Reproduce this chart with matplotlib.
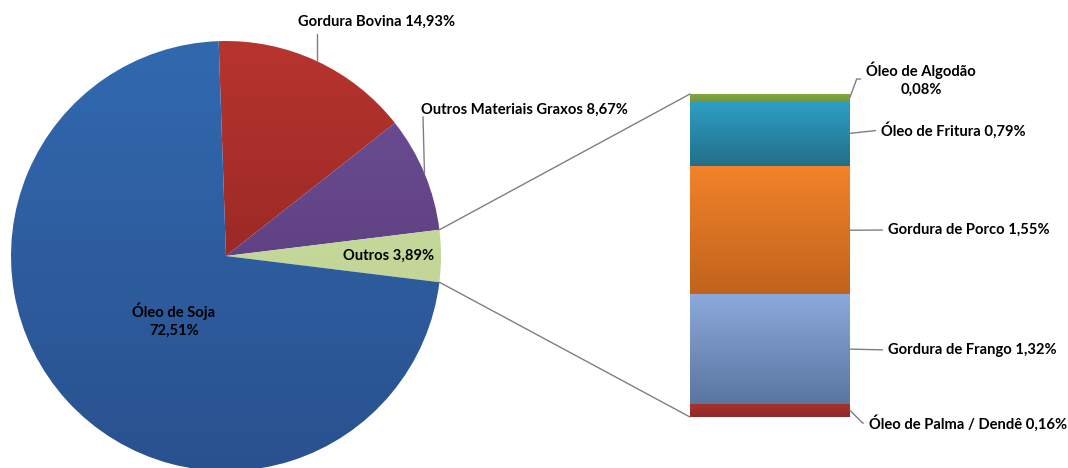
import numpy as np
import matplotlib
matplotlib.use('Agg')
from matplotlib import pyplot as plt
from matplotlib.colors import LinearSegmentedColormap
from matplotlib.patches import ConnectionPatch

# fatias do grafico de pizza
pie_labels = ['Gordura Bovina', 'Outros Materiais Graxos', 'Outros', 'Óleo de Soja']
pie_values = [14.93, 8.67, 3.89, 72.51]
pie_top = ['#B8342F', '#6E4F97', '#C8DB9F', '#3169AF']
pie_bot = ['#7E1F1C', '#523670', '#BFD393', '#29518E']

# detalhamento de "Outros" (de baixo para cima)
bar_labels = ['Óleo de Palma / Dendê', 'Gordura de Frango', 'Gordura de Porco',
              'Óleo de Fritura', 'Óleo de Algodão']
bar_values = [0.16, 1.32, 1.55, 0.79, 0.08]
bar_top = ['#A8332F', '#8BA9DB', '#F2832A', '#2FA0C5', '#82A63E']
bar_bot = ['#90292A', '#5A75A0', '#C0631C', '#226E89', '#76993A']

def fmt(v):
    return ('%.2f%%' % v).replace('.', ',')

def gradiente(ax, patch, top, bottom, extent):
    cmap = LinearSegmentedColormap.from_list('g', [bottom, top])
    grad = np.linspace(0, 1, 256).reshape(-1, 1)
    im = ax.imshow(grad, cmap=cmap, extent=extent, origin='lower',
                   aspect='auto', zorder=1)
    im.set_clip_path(patch)

plt.rcParams['font.family'] = ['Lato', 'DejaVu Sans']
plt.rcParams['font.weight'] = 'bold'
fs = 10.6
gray = '#7f7f7f'

fig = plt.figure(figsize=(10.68, 4.68), dpi=100)
ax = fig.add_axes([0, 0, 1, 1])

cx, cy, r = 226, 212, 215
start = (sum(pie_values[:2]) + pie_values[2] / 2) / 100 * 360
wedges, _ = ax.pie(pie_values, startangle=start, counterclock=False,
                   center=(cx, cy), radius=r, colors=pie_top,
                   wedgeprops=dict(linewidth=0))
for w, t, b in zip(wedges, pie_top, pie_bot):
    w.set_alpha(0)
    gradiente(ax, w, t, b, (cx - r, cx + r, cy - r, cy + r))

ax.set_xlim(0, 1068)
ax.set_ylim(0, 468)
ax.set_aspect('equal')
ax.axis('off')

def arco(w):
    a = np.deg2rad((w.theta1 + w.theta2) / 2)
    return cx + r * np.cos(a), cy + r * np.sin(a)

# rotulos das fatias
x, y = arco(wedges[0])
ax.plot([x, x], [y, 434], color=gray, lw=1)
ax.text(377, 446, pie_labels[0] + ' ' + fmt(pie_values[0]), ha='center',
        va='center', fontsize=fs)
x, y = arco(wedges[1])
ax.plot([x, 423], [y, 351], color=gray, lw=1)
ax.text(421, 358, pie_labels[1] + ' ' + fmt(pie_values[1]), ha='left',
        va='center', fontsize=fs)
ax.text(389, 212, pie_labels[2] + ' ' + fmt(pie_values[2]), ha='center',
        va='center', fontsize=fs)
ax.text(174, 148, pie_labels[3] + '\n' + fmt(pie_values[3]), ha='center',
        va='center', fontsize=fs, linespacing=1.35)

# barra empilhada
ax_bar = fig.add_axes([690 / 1068, 51 / 468, 160 / 1068, 323 / 468])
total = sum(bar_values)
bottom = 0
mids = []
for v, t, b in zip(bar_values, bar_top, bar_bot):
    rect = ax_bar.bar(0, v, width=1, bottom=bottom, color=t, linewidth=0)[0]
    rect.set_alpha(0)
    gradiente(ax_bar, rect, t, b, (-0.5, 0.5, bottom, bottom + v))
    mids.append(bottom + v / 2)
    bottom += v
ax_bar.set_xlim(-0.5, 0.5)
ax_bar.set_ylim(0, total)
ax_bar.axis('off')

# linhas ligando a fatia "Outros" a barra
for th, yb in ((wedges[2].theta2, total), (wedges[2].theta1, 0)):
    a = np.deg2rad(th)
    con = ConnectionPatch(xyA=(cx + r * np.cos(a), cy + r * np.sin(a)),
                          coordsA=ax.transData, xyB=(-0.5, yb),
                          coordsB=ax_bar.transData, color=gray, lw=1)
    fig.add_artist(con)

# rotulos da barra
txt_pos = [(869, 45), (888, 118), (888, 238), (881, 338), (921, 389)]
estilo = ['angle,angleA=0,angleB=-45,rad=0', 'arc3', 'arc3', 'arc3',
          'angle,angleA=0,angleB=70,rad=0']
for i, (lab, v) in enumerate(zip(bar_labels, bar_values)):
    if i == 4:
        s = lab + '\n' + fmt(v)
        ha = 'center'
    else:
        s = lab + ' ' + fmt(v)
        ha = 'left'
    ax_bar.annotate(s, xy=(0.5, mids[i]), xycoords='data',
                    xytext=txt_pos[i], textcoords='figure pixels',
                    ha=ha, va='center', fontsize=fs, linespacing=1.35,
                    arrowprops=dict(arrowstyle='-', color=gray, lw=1,
                                    shrinkA=2, shrinkB=0, relpos=(0, 0.5),
                                    connectionstyle=estilo[i]),
                    annotation_clip=False)

plt.savefig('out.png', dpi=100)
